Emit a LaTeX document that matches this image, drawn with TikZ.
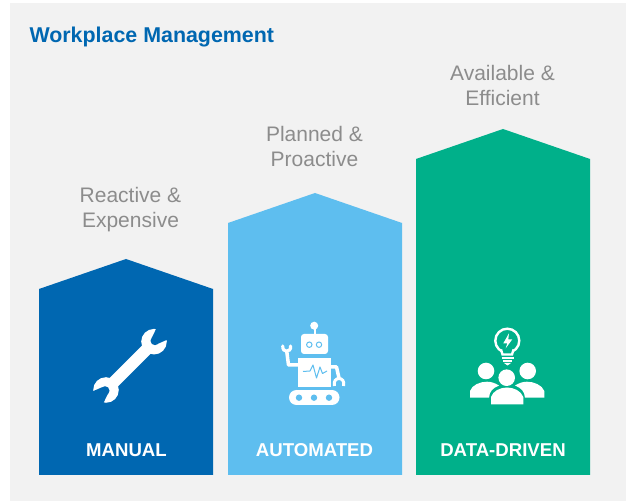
\documentclass[tikz,border=0pt]{standalone}
\usepackage{fontspec}
\setmainfont{Liberation Sans}
\definecolor{panelgray}{HTML}{F2F2F2}
\definecolor{manualblue}{HTML}{0067B1}
\definecolor{autoblue}{HTML}{5EBEEF}
\definecolor{datagreen}{HTML}{00B08A}
\definecolor{captiongray}{HTML}{8C8C8C}
\tikzset{
  caption/.style={text=captiongray, font=\fontsize{21}{25}\selectfont, align=center},
  barlabel/.style={text=white, font=\bfseries\fontsize{18.6}{22}\selectfont},
}
\begin{document}
\begin{tikzpicture}[x=1pt,y=-1pt]
\useasboundingbox (0,0) rectangle (630,502);
\fill[white] (0,0) rectangle (630,502);
\fill[panelgray] (10,3) rectangle (626,501.5);

\node[anchor=west, text=manualblue, font=\bfseries\fontsize{21.4}{25}\selectfont] (title) at (26,37) {Workplace Management};

% bars
\fill[manualblue] (39,475) -- (39,289) -- (126,259) -- (213,289) -- (213,475) -- cycle;
\fill[autoblue] (228,475) -- (228,223) -- (315,193) -- (402,223) -- (402,475) -- cycle;
\fill[datagreen] (416,475) -- (416,159) -- (503,129) -- (590,159) -- (590,475) -- cycle;

\node[caption] (reactive) at (130.5,210) {Reactive \&\\Expensive};
\node[caption] (planned) at (314.5,146) {Planned \&\\Proactive};
\node[caption] (available) at (502.5,85) {Available \&\\Efficient};

\node[barlabel] (manual) at (126.5,450) {MANUAL};
\node[barlabel] (automated) at (314.5,450) {AUTOMATED};
\node[barlabel] (datadriven) at (503,450) {DATA-DRIVEN};

% wrench
\draw[white, line width=12pt] (148,348) -- (112,384);
\fill[white] (154,341.7) circle (12.8pt);
\fill[white] (106,390) circle (12.8pt);
\fill[manualblue] (155,340.7) circle (4.5pt);
\fill[manualblue] (105,390.7) circle (4.5pt);
\fill[manualblue] (152,337.5) -- (158,325) -- (171,338) -- (158.5,343.5) -- cycle;
\fill[manualblue] (108,393.5) -- (102,406) -- (89,393) -- (101.5,387.5) -- cycle;

% robot
\fill[white, rounded corners=3pt] (301,334) rectangle (328,354);
\draw[white, line width=2pt] (314.5,328) -- (314.5,335);
\fill[white] (314.2,325.7) circle (4pt);
\draw[autoblue, line width=1pt, fill=white] (309.3,344.7) circle (2.7pt);
\draw[autoblue, line width=1pt, fill=white] (319,344.7) circle (2.7pt);
\fill[white] (297.7,358.3) rectangle (331,386.7);
\draw[autoblue, line width=1pt, line join=round] (303,371.5) -- (310,371) -- (313,365) -- (316.5,378) -- (320,367) -- (322.5,373.5) -- (327,371);
% left arm
\draw[white, line width=3.5pt, line join=round] (298,365) -- (288.5,365) -- (286.7,351);
\draw[white, line width=3.2pt, line cap=round] (282.8,346) .. controls (282,353) and (291.4,353) .. (290.6,346);
% right arm
\draw[white, line width=3.5pt, line join=round] (331,367) -- (336.5,367) -- (339,378);
\draw[white, line width=3pt] (334.5,386) .. controls (332,376) and (346,376) .. (343.5,386);
% tracks
\fill[white] (296.5,390) rectangle (332,405);
\fill[white] (296.5,397.5) circle (7.5pt);
\fill[white] (332,397.5) circle (7.5pt);
\foreach \x in {299,314,329} \fill[autoblue] (\x,397.7) circle (3.2pt);

% bulb
\draw[white, line width=2.4pt] (507.3,340.7) circle (12pt);
\fill[datagreen] (501.5,350) rectangle (513,355.5);
\draw[white, line width=2.4pt] (501,349.5) -- (502.5,354.5) -- (512,354.5) -- (513.5,349.5);
\fill[white] (509,333.3) -- (503.3,343.3) -- (507.3,343.3) -- (505.7,348.3) -- (512.3,339.3) -- (508.3,339.3) -- cycle;
\draw[white, line width=1.5pt] (501.5,357.8) -- (513.5,357.8);
\draw[white, line width=1.5pt] (503,361) -- (512,361);
\fill[white] (504,363) -- (511,363) -- (507.5,365.5) -- cycle;

% people
\fill[white] (486,371) circle (8.3pt);
\fill[white] (527.7,371) circle (8.3pt);
\fill[white] (470,397.7) -- (470,391) .. controls (472,385) and (480,381.7) .. (487,381.7) .. controls (491,381.7) and (495,383) .. (499,385.5) .. controls (493,388) and (489.5,391) .. (489,397.7) -- cycle;
\fill[white] (544.3,397.7) -- (544.3,391) .. controls (542,385) and (534,381.7) .. (527,381.7) .. controls (523,381.7) and (519,383) .. (515,385.5) .. controls (521,388) and (524.5,391) .. (525,397.7) -- cycle;
\fill[white] (506.7,377.7) circle (8.3pt);
\fill[white] (491,404.3) -- (491,397) .. controls (493,391) and (500,387.5) .. (507,387.5) .. controls (514,387.5) and (521,391) .. (523.3,397) -- (523.3,404.3) -- cycle;
\end{tikzpicture}
\end{document}
